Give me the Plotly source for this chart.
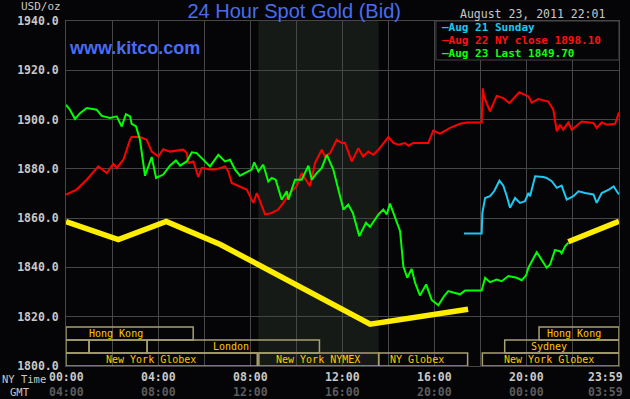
import plotly.graph_objects as go

# ---------------- data (hours since 00:00 NY time, price USD/oz) ----------------
red_hours = [0.0, 0.46, 0.90, 1.40, 1.77, 2.05, 2.20, 2.49, 2.78, 2.85, 3.21, 3.50, 3.72, 4.01, 4.22, 4.51,
             5.09, 5.24, 5.31, 5.53, 5.74, 5.89, 6.25, 6.47, 6.90, 7.04, 7.19, 7.48, 7.84, 8.13, 8.28, 8.42,
             8.64, 8.93, 9.21, 9.43, 9.72, 10.01, 10.23, 10.45, 10.59, 10.81, 11.10, 11.24, 11.46, 11.75,
             11.97, 12.11, 12.40, 12.69, 12.90, 13.12, 13.34, 13.56, 13.99, 14.21, 14.42, 14.71, 14.86,
             15.07, 15.72, 15.94, 16.23, 16.67, 17.10, 17.39, 18.04, 18.09, 18.14, 18.40, 18.69, 18.98,
             19.24, 19.67, 20.07, 20.21, 20.50, 20.93, 21.15, 21.30, 21.44, 21.58, 21.80, 21.95, 22.24,
             22.38, 22.89, 23.03, 23.25, 23.47, 23.83, 23.90, 24.0]
red_values = [1869.6, 1871.6, 1875.6, 1881.0, 1878.3, 1882.0, 1880.4, 1883.7, 1891.8, 1892.9, 1892.9, 1891.8,
              1887.0, 1885.0, 1888.0, 1887.0, 1887.8, 1886.4, 1882.4, 1883.0, 1876.7, 1880.4, 1879.7, 1879.7,
              1881.0, 1879.0, 1874.3, 1873.0, 1871.6, 1866.2, 1870.2, 1866.9, 1861.5, 1862.1, 1863.5, 1866.2,
              1870.2, 1873.0, 1878.3, 1875.0, 1873.0, 1882.4, 1887.8, 1885.0, 1886.4, 1891.8, 1890.5, 1890.5,
              1883.0, 1888.4, 1885.0, 1887.0, 1885.7, 1887.8, 1892.9, 1890.5, 1889.8, 1890.5, 1889.4, 1890.5,
              1890.5, 1895.5, 1894.3, 1896.6, 1898.3, 1898.8, 1898.8, 1912.7, 1909.4, 1903.3, 1909.6, 1908.7,
              1906.7, 1911.1, 1909.4, 1906.9, 1908.3, 1907.3, 1904.0, 1895.2, 1897.9, 1895.9, 1898.8, 1895.9,
              1897.9, 1899.2, 1898.6, 1896.6, 1898.8, 1897.9, 1898.3, 1900.6, 1902.9]

green_hours = [0.0, 0.17, 0.39, 0.61, 0.90, 1.33, 1.55, 1.91, 2.20, 2.42, 2.60, 2.78, 2.85, 3.04, 3.21, 3.43,
               3.72, 3.91, 4.22, 4.51, 4.77, 4.95, 5.24, 5.46, 5.67, 5.96, 6.25, 6.61, 6.90, 7.12, 7.34, 7.55,
               7.91, 8.06, 8.17, 8.35, 8.56, 8.78, 8.93, 9.10, 9.36, 9.58, 9.65, 9.94, 10.23, 10.52, 10.67,
               10.88, 11.10, 11.32, 11.60, 11.82, 12.04, 12.25, 12.45, 12.73, 13.02, 13.19, 13.56, 13.77,
               13.92, 14.06, 14.21, 14.50, 14.64, 14.81, 15.00, 15.15, 15.36, 15.63, 15.87, 16.16, 16.41,
               16.59, 16.81, 17.10, 17.32, 18.04, 18.19, 18.40, 18.69, 18.91, 19.20, 19.56, 19.78, 19.97,
               20.07, 20.21, 20.43, 20.86, 21.01, 21.22, 21.44, 21.51, 21.66, 21.80]
green_values = [1906.0, 1904.0, 1900.2, 1902.6, 1904.7, 1904.0, 1901.5, 1900.6, 1901.3, 1897.2, 1902.2, 1901.3,
                1898.3, 1897.2, 1891.8, 1877.2, 1884.8, 1876.3, 1877.7, 1881.3, 1883.4, 1881.3, 1883.0, 1886.7,
                1886.4, 1883.7, 1881.0, 1885.7, 1883.0, 1883.7, 1879.7, 1877.2, 1879.0, 1879.7, 1882.6, 1879.0,
                1881.7, 1874.9, 1876.3, 1875.6, 1867.5, 1870.9, 1867.5, 1875.6, 1875.6, 1881.3, 1875.6, 1878.3,
                1880.4, 1885.7, 1879.7, 1871.6, 1863.5, 1865.5, 1862.1, 1852.7, 1858.1, 1856.4, 1861.5, 1863.5,
                1861.5, 1865.9, 1862.1, 1854.7, 1840.5, 1835.8, 1839.4, 1833.8, 1828.6, 1833.1, 1826.8, 1824.6,
                1828.4, 1830.4, 1829.8, 1829.1, 1830.6, 1830.6, 1835.8, 1834.0, 1835.1, 1834.4, 1836.5, 1835.8,
                1834.8, 1836.8, 1839.9, 1842.6, 1846.2, 1839.9, 1841.2, 1847.0, 1846.6, 1845.7, 1848.6, 1850.0]

cyan_hours = [17.27, 18.04, 18.07, 18.19, 18.40, 18.58, 18.81, 18.98, 19.13, 19.27, 19.49, 19.70, 19.92, 20.07,
              20.14, 20.36, 20.72, 20.86, 21.08, 21.30, 21.51, 21.73, 22.02, 22.24, 22.53, 22.89, 23.03, 23.25,
              23.56, 23.77, 23.90, 24.0]
cyan_values = [1853.8, 1853.8, 1862.1, 1868.2, 1868.9, 1870.9, 1875.2, 1873.2, 1868.9, 1864.2, 1868.2, 1866.2,
               1866.9, 1870.2, 1868.9, 1877.0, 1876.7, 1876.3, 1875.0, 1872.3, 1873.2, 1867.5, 1868.9, 1870.9,
               1870.2, 1869.6, 1866.2, 1870.2, 1871.6, 1872.9, 1870.9, 1869.6]

yellow_hours = [0.0, 2.27, 4.35, 6.7, 13.2, 17.45, None, 21.8, 24.0]
yellow_values = [1858.6, 1851.3, 1858.7, 1849.3, 1817.0, 1823.0, None, 1850.4, 1858.7]

legend_labels = ["\u2013Aug 21 Sunday", "\u2013Aug 22 NY close 1898.10", "\u2013Aug 23 Last 1849.70"]

y_ticks = [1800, 1820, 1840, 1860, 1880, 1900, 1920, 1940]
ny_tick_hours = [0, 4, 8, 12, 16, 20, 24]
ny_tick_text = ["00:00", "04:00", "08:00", "12:00", "16:00", "20:00", "23:59"]
gmt_tick_text = ["04:00", "08:00", "12:00", "16:00", "20:00", "00:00", "03:59"]

# trading sessions: row (0 bottom .. 2 top), start hour, end hour, label, label centre hour
session_rows = [2, 2, 1, 1, 1, 1, 0, 0, 0, 0]
session_start = [0.0, 20.53, 0.0, 1.0, 3.52, 19.04, 0.0, 8.37, 13.57, 18.07]
session_end = [5.52, 24.0, 1.0, 3.52, 11.0, 24.0, 8.3, 13.57, 17.43, 24.0]
session_label = ["Hong Kong", "Hong Kong", "", "", "London", "Sydney", "New York Globex", "New York NYMEX",
                 "NY Globex", "New York Globex"]
session_label_x = [2.17, 22.05, 0.5, 2.26, 7.16, 20.98, 3.67, 10.92, 15.23, 20.96]

pit_start, pit_end = 8.35, 13.57

# ---------------- styling ----------------
BG = "#050507"
GRID = "#464646"
TXT = "#c8c8c8"
MONO = "DejaVu Sans Mono"
row_h = 5.27
y0 = 1800

fig = go.Figure()
fig.add_trace(go.Scatter(x=yellow_hours, y=yellow_values, mode="lines", connectgaps=False,
                         line=dict(color="#ffee00", width=5.5), hoverinfo="skip"))
fig.add_trace(go.Scatter(x=cyan_hours, y=cyan_values, mode="lines", line=dict(color="#1ec8f0", width=2)))
fig.add_trace(go.Scatter(x=red_hours, y=red_values, mode="lines", line=dict(color="#ff0000", width=2)))
fig.add_trace(go.Scatter(x=green_hours, y=green_values, mode="lines", line=dict(color="#00ff00", width=2)))

shapes = [dict(type="rect", xref="x", yref="paper", x0=pit_start, x1=pit_end, y0=0, y1=1,
               fillcolor="#161a16", line=dict(width=0), layer="below")]
annotations = []
for r, s, e, lab, lx in zip(session_rows, session_start, session_end, session_label, session_label_x):
    shapes.append(dict(type="rect", xref="x", yref="y", x0=s, x1=e, y0=y0 + r * row_h, y1=y0 + (r + 1) * row_h,
                       line=dict(color="#a8a070", width=1.5), fillcolor="rgba(0,0,0,0)", layer="above"))
    if lab:
        annotations.append(dict(x=lx, y=y0 + (r + 0.5) * row_h, xref="x", yref="y", text=lab, showarrow=False,
                                xanchor="center", yanchor="middle",
                                font=dict(family=MONO, size=10, color="#ffc800")))

# legend box
shapes.append(dict(type="rect", xref="paper", yref="paper", x0=0.669, x1=1.0, y0=0.887, y1=1.0,
                   fillcolor=BG, line=dict(color=GRID, width=1), layer="above"))
legend_colors = ["#1ec8f0", "#ff1010", "#10ff10"]
legend_y = [0.9805, 0.9428, 0.9051]
for lab, col, ly in zip(legend_labels, legend_colors, legend_y):
    annotations.append(dict(x=0.678, y=ly, xref="paper", yref="paper", text=lab, showarrow=False,
                            xanchor="left", yanchor="middle", borderpad=0,
                            font=dict(family=MONO, size=11, color=col, weight="bold")))

# x tick labels (NY time and GMT)
for i, (h, t1, t2) in enumerate(zip(ny_tick_hours, ny_tick_text, gmt_tick_text)):
    last = i == len(ny_tick_hours) - 1
    common = dict(x=h, xref="x", yref="paper", showarrow=False, yanchor="middle",
                  xanchor="right" if last else "center", xshift=6 if last else 0)
    annotations.append(dict(common, y=-0.033, text=t1,
                            font=dict(family=MONO, size=11.5, color=TXT, weight="bold")))
    annotations.append(dict(common, y=-0.076, text=t2,
                            font=dict(family=MONO, size=11.5, color="#5c5c5c", weight="bold")))

annotations += [
    dict(x=-0.076, y=-0.038, xref="paper", yref="paper", text="NY Time", showarrow=False,
         xanchor="center", yanchor="middle", font=dict(family=MONO, size=10.5, color=TXT)),
    dict(x=-0.083, y=-0.075, xref="paper", yref="paper", text="GMT", showarrow=False,
         xanchor="center", yanchor="middle", font=dict(family=MONO, size=10.5, color=TXT)),
    dict(x=-0.045, y=1.041, xref="paper", yref="paper", text="USD/oz", showarrow=False,
         xanchor="center", yanchor="middle", font=dict(family=MONO, size=11, color=TXT)),
    dict(x=0.978, y=1.0203, xref="paper", yref="paper", text="August 23, 2011 22:01", showarrow=False,
         xanchor="right", yanchor="middle", font=dict(family=MONO, size=11.5, color=TXT)),
    dict(x=0.002, y=0.922, xref="paper", yref="paper", text="www.kitco.com", showarrow=False,
         xanchor="left", yanchor="middle",
         font=dict(family="Liberation Sans", size=18, color="#4a6cf0", weight="bold")),
]

fig.update_layout(
    width=630, height=399,
    margin=dict(l=66, r=11, t=21, b=33),
    paper_bgcolor=BG, plot_bgcolor=BG,
    showlegend=False,
    title=dict(text="24 Hour Spot Gold (Bid)", x=0.467, xanchor="center", y=0.972, yanchor="middle",
               font=dict(family="Liberation Sans", size=20, color="#4a6cf0")),
    xaxis=dict(range=[0, 24], tick0=0, dtick=2, showgrid=True, gridcolor=GRID, gridwidth=1,
               showticklabels=False, ticks="", zeroline=False,
               showline=True, linecolor=GRID, linewidth=1, mirror=True),
    yaxis=dict(range=[1800, 1940], tickvals=y_ticks, tickformat=".1f", showgrid=True, gridcolor=GRID,
               gridwidth=1, zeroline=False, ticks="", ticklabelstandoff=4,
               showline=True, linecolor=GRID, linewidth=1, mirror=True,
               tickfont=dict(family=MONO, size=11.5, color=TXT, weight="bold")),
    shapes=shapes,
    annotations=annotations,
)

fig.write_html("out.html")
